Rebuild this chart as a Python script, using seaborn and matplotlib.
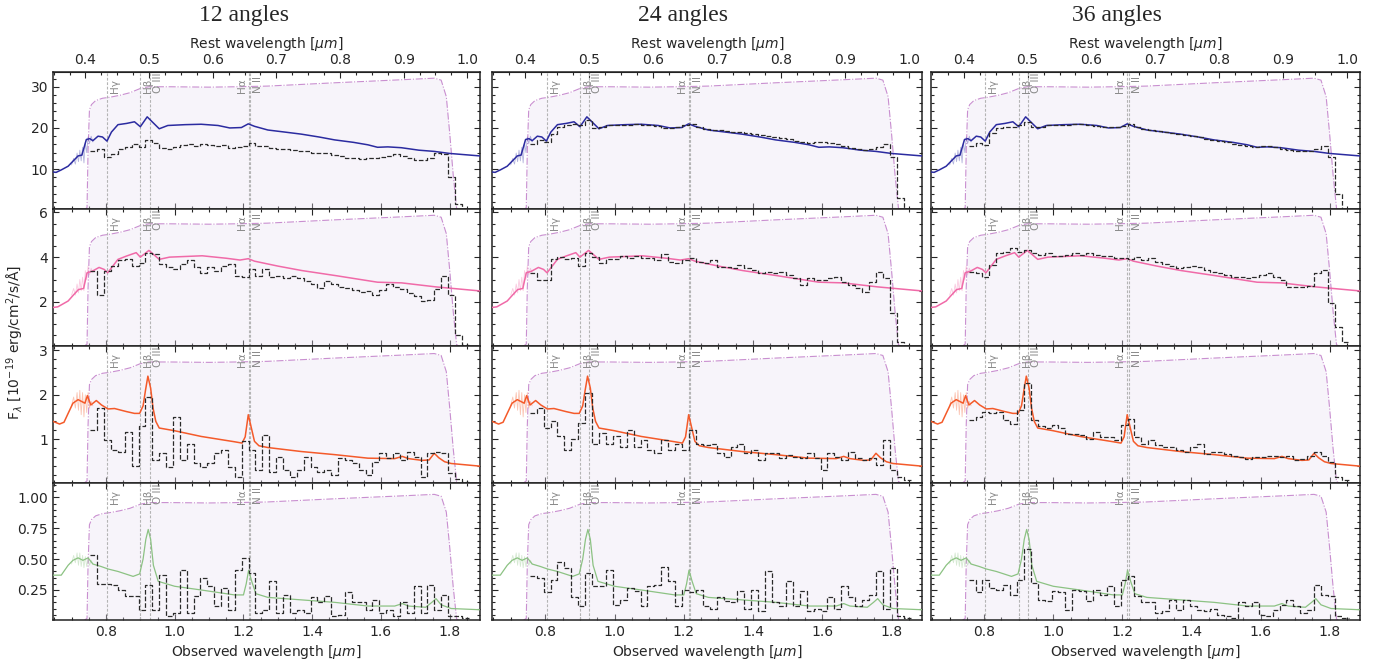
import numpy as np
import matplotlib
matplotlib.use('Agg')
import matplotlib.pyplot as plt
from matplotlib.ticker import AutoMinorLocator, MultipleLocator, FixedLocator
import seaborn as sns

sns.set_style('ticks')
plt.rcParams['font.family'] = ['DejaVu Sans']
plt.rcParams['mathtext.fontset'] = 'dejavusans'

# ---------------------------------------------------------------- data
z1 = 1.851                      # 1 + z
angles = ['12 angles', '24 angles', '36 angles']

# binned observed spectrum: 0.02 um bins from 0.755 to 1.855 um
wave_edges = np.round(np.arange(0.755, 1.8551, 0.02), 3)

d12_r1 = [14.5, 15.0, 13.0, 13.6, 14.8, 15.3, 16.0, 15.4, 17.0, 16.4,
          15.2, 14.8, 15.3, 15.8, 16.2, 15.6, 16.0, 15.8, 15.5, 15.9,
          15.2, 15.3, 15.6, 16.3, 15.6, 15.5, 15.2, 15.0, 14.9, 14.7,
          14.5, 14.4, 14.0, 13.8, 13.9, 13.5, 13.2, 12.8, 12.6, 12.5,
          12.6, 12.8, 13.0, 13.3, 13.6, 13.2, 12.6, 12.3, 12.3, 12.6,
          13.8, 13.6, 8.0, 1.5, 0.3]
d24_r1 = [16.0, 17.0, 16.5, 18.5, 20.3, 20.8, 21.0, 20.8, 22.0, 20.0,
          20.3, 20.6, 20.6, 20.8, 20.8, 20.9, 20.8, 20.7, 20.4, 20.0,
          20.0, 20.2, 20.6, 21.0, 20.3, 19.8, 19.6, 19.4, 19.2, 19.0,
          18.9, 18.8, 18.6, 18.4, 18.1, 17.8, 17.5, 17.2, 16.9, 16.6,
          16.4, 16.5, 16.6, 16.3, 16.0, 15.7, 15.2, 14.8, 14.7, 15.0,
          15.4, 16.1, 13.0, 3.0, 0.3]
d36_r1 = [15.5, 16.3, 15.8, 18.8, 20.0, 20.3, 20.3, 20.8, 21.5, 20.2,
          20.3, 20.6, 20.7, 20.8, 20.8, 21.0, 20.9, 20.7, 20.5, 20.3,
          20.2, 20.3, 20.5, 20.9, 20.2, 19.8, 19.5, 19.3, 19.0, 18.7,
          18.5, 18.2, 18.0, 17.7, 17.4, 17.1, 16.8, 16.5, 16.2, 15.8,
          15.5, 15.4, 15.5, 15.5, 15.3, 15.0, 14.6, 14.4, 14.4, 14.5,
          15.0, 15.7, 13.0, 4.0, 0.4]

d12_r2 = [3.4, 2.3, 3.4, 3.6, 3.85, 3.9, 3.6, 3.75, 4.2, 4.15,
          3.7, 3.55, 3.47, 3.7, 3.85, 3.55, 3.27, 3.55, 3.4, 3.6,
          3.7, 3.17, 3.12, 3.47, 3.17, 3.47, 3.1, 3.17, 3.06, 3.17,
          3.06, 2.94, 2.79, 2.6, 2.94, 2.79, 2.67, 2.64, 2.52, 2.45,
          2.48, 2.33, 2.52, 2.79, 2.67, 2.56, 2.41, 2.26, 2.03, 2.1,
          2.56, 3.17, 2.33, 0.5, 0.06]
d24_r2 = [3.3, 3.0, 3.0, 3.9, 4.0, 3.9, 3.95, 3.6, 4.2, 4.0,
          3.75, 3.9, 3.9, 4.05, 3.95, 4.05, 3.95, 3.95, 3.88, 4.15,
          3.8, 3.72, 3.88, 3.95, 3.8, 3.75, 3.88, 3.58, 3.58, 3.5,
          3.65, 3.5, 3.43, 3.28, 3.35, 3.28, 3.35, 3.2, 3.05, 2.75,
          3.05, 3.0, 2.98, 3.05, 3.1, 2.9, 2.75, 2.6, 2.45, 2.9,
          3.35, 3.05, 1.5, 0.2, 0.02]
d36_r2 = [3.35, 3.28, 3.13, 3.65, 4.18, 4.25, 4.4, 4.25, 4.33, 4.18,
          4.1, 4.18, 4.06, 4.06, 4.1, 4.18, 4.1, 4.18, 4.1, 4.03,
          4.03, 3.95, 3.95, 3.9, 4.0, 3.88, 3.95, 3.8, 3.7, 3.6,
          3.5, 3.55, 3.6, 3.58, 3.43, 3.35, 3.28, 3.2, 3.13, 3.1,
          3.05, 3.13, 3.2, 3.3, 3.13, 2.98, 2.68, 2.65, 2.68, 2.7,
          3.28, 3.43, 1.93, 0.9, 0.2]

d12_r3 = [1.2, 1.7, 0.98, 0.75, 0.72, 1.15, 0.4, 1.3, 1.95, 0.53,
          0.68, 0.38, 1.5, 0.53, 0.9, 0.45, 0.38, 0.45, 0.68, 0.75,
          0.38, 0.15, 0.95, 0.75, 0.3, 1.1, 0.26, 0.6, 0.3, 0.15,
          0.3, 0.6, 0.38, 0.26, 0.3, 0.19, 0.57, 0.53, 0.45, 0.3,
          0.19, 0.49, 0.68, 0.57, 0.68, 0.53, 0.72, 0.6, 0.15, 0.68,
          0.72, 0.68, 0.23, 0.11, 0.03]
d24_r3 = [1.6, 1.7, 1.25, 1.4, 1.06, 0.75, 1.0, 1.36, 2.04, 0.9,
          1.13, 0.9, 1.06, 0.83, 1.2, 0.83, 0.98, 0.75, 0.68, 0.98,
          0.75, 0.9, 0.75, 1.2, 0.9, 0.87, 0.9, 0.68, 0.6, 0.83,
          0.9, 0.68, 0.75, 0.53, 0.68, 0.68, 0.57, 0.64, 0.6, 0.57,
          0.68, 0.57, 0.3, 0.68, 0.6, 0.53, 0.72, 0.57, 0.53, 0.57,
          0.42, 0.98, 0.3, 0.15, 0.08]
d36_r3 = [1.43, 1.5, 1.62, 1.58, 1.62, 1.43, 1.35, 1.65, 2.26, 1.43,
          1.29, 1.24, 1.31, 1.24, 1.12, 1.12, 1.09, 1.01, 1.16, 1.05,
          1.05, 0.97, 1.31, 1.46, 1.05, 0.9, 0.97, 0.86, 0.82, 0.82,
          0.75, 0.71, 0.82, 0.9, 0.67, 0.71, 0.71, 0.67, 0.63, 0.6,
          0.56, 0.6, 0.6, 0.63, 0.63, 0.6, 0.63, 0.52, 0.56, 0.63,
          0.71, 0.63, 0.48, 0.14, 0.07]

d12_r4 = [0.53, 0.3, 0.3, 0.29, 0.25, 0.2, 0.2, 0.09, 0.29, 0.09,
          0.37, 0.04, 0.06, 0.41, 0.06, 0.2, 0.35, 0.28, 0.12, 0.27,
          0.09, 0.41, 0.51, 0.39, 0.06, 0.09, 0.32, 0.06, 0.21, 0.06,
          0.09, 0.06, 0.19, 0.15, 0.2, 0.04, 0.05, 0.23, 0.15, 0.15,
          0.09, 0.17, 0.06, 0.09, 0.04, 0.15, 0.06, 0.28, 0.06, 0.29,
          0.09, 0.21, 0.04, 0.04, 0.02]
d24_r4 = [0.36, 0.35, 0.23, 0.33, 0.48, 0.43, 0.19, 0.12, 0.39, 0.28,
          0.28, 0.41, 0.13, 0.17, 0.27, 0.24, 0.12, 0.28, 0.29, 0.44,
          0.32, 0.12, 0.25, 0.23, 0.25, 0.12, 0.1, 0.19, 0.16, 0.15,
          0.24, 0.1, 0.25, 0.08, 0.4, 0.15, 0.12, 0.32, 0.12, 0.24,
          0.08, 0.1, 0.08, 0.19, 0.1, 0.28, 0.19, 0.12, 0.17, 0.21,
          0.4, 0.1, 0.43, 0.04, 0.02]
d36_r4 = [0.33, 0.23, 0.33, 0.27, 0.25, 0.29, 0.21, 0.33, 0.58, 0.31,
          0.17, 0.16, 0.24, 0.23, 0.09, 0.25, 0.24, 0.16, 0.25, 0.21,
          0.28, 0.12, 0.33, 0.36, 0.2, 0.15, 0.15, 0.06, 0.08, 0.17,
          0.09, 0.17, 0.12, 0.09, 0.08, 0.1, 0.05, 0.04, 0.02, 0.15,
          0.12, 0.15, 0.05, 0.04, 0.09, 0.13, 0.17, 0.12, 0.06, 0.09,
          0.29, 0.21, 0.2, 0.04, 0.02]

# model spectra (smoothed), one per row
m1_wave = [0.646, 0.655, 0.670, 0.690, 0.705, 0.719, 0.730, 0.743, 0.753, 0.762,
           0.777, 0.790, 0.803, 0.816, 0.835, 0.860, 0.883, 0.900, 0.920, 0.932,
           0.955, 0.980, 1.030, 1.077, 1.126, 1.160, 1.194, 1.214, 1.232, 1.271,
           1.320, 1.368, 1.420, 1.465, 1.520, 1.562, 1.590, 1.620, 1.659, 1.710,
           1.755, 1.800, 1.888]
m1_flux = [9.3, 9.2, 9.8, 10.7, 12.0, 13.2, 13.4, 17.2, 17.4, 16.9,
           18.0, 17.8, 16.8, 19.0, 20.8, 21.1, 21.5, 20.3, 22.7, 21.7,
           19.8, 20.6, 20.8, 20.9, 20.6, 20.0, 20.1, 21.0, 20.4, 19.5,
           19.0, 18.5, 17.8, 17.1, 16.5, 15.9, 15.3, 15.4, 15.2, 14.6,
           14.3, 13.8, 13.2]
m2_wave = [0.646, 0.660, 0.690, 0.705, 0.720, 0.735, 0.745, 0.760, 0.780, 0.795,
           0.805, 0.835, 0.860, 0.888, 0.900, 0.925, 0.940, 0.955, 0.985, 1.080,
           1.150, 1.190, 1.214, 1.232, 1.300, 1.370, 1.470, 1.565, 1.590, 1.660,
           1.760, 1.888]
m2_flux = [1.75, 1.78, 2.04, 2.3, 2.55, 2.6, 3.3, 3.37, 3.54, 3.45,
           3.3, 3.9, 4.05, 4.2, 4.0, 4.3, 4.1, 3.9, 4.0, 4.06,
           3.95, 3.87, 3.93, 3.82, 3.6, 3.4, 3.17, 2.94, 2.88, 2.85,
           2.67, 2.49]
m3_wave = [0.646, 0.665, 0.678, 0.690, 0.704, 0.719, 0.729, 0.739, 0.746, 0.756,
           0.772, 0.787, 0.806, 0.825, 0.860, 0.883, 0.898, 0.908, 0.915, 0.922,
           0.930, 0.937, 0.945, 0.955, 0.999, 1.077, 1.174, 1.196, 1.205, 1.214,
           1.223, 1.232, 1.245, 1.271, 1.368, 1.465, 1.562, 1.640, 1.662, 1.680,
           1.720, 1.740, 1.755, 1.768, 1.785, 1.804, 1.888]
m3_flux = [1.40, 1.34, 1.38, 1.58, 1.81, 1.89, 1.85, 1.81, 1.98, 1.77,
           1.87, 1.77, 1.68, 1.69, 1.62, 1.58, 1.58, 1.75, 2.1, 2.42,
           2.15, 1.7, 1.4, 1.25, 1.19, 1.06, 0.94, 0.91, 1.05, 1.55,
           1.25, 0.95, 0.85, 0.81, 0.72, 0.65, 0.57, 0.56, 0.61, 0.56,
           0.52, 0.53, 0.68, 0.58, 0.49, 0.45, 0.39]
m4_wave = [0.646, 0.670, 0.690, 0.704, 0.719, 0.733, 0.748, 0.762, 0.786, 0.806,
           0.835, 0.879, 0.898, 0.908, 0.916, 0.923, 0.930, 0.938, 0.952, 1.000,
           1.077, 1.174, 1.200, 1.208, 1.215, 1.224, 1.236, 1.271, 1.368, 1.465,
           1.562, 1.640, 1.662, 1.680, 1.730, 1.748, 1.760, 1.775, 1.804, 1.888]
m4_flux = [0.37, 0.37, 0.45, 0.49, 0.51, 0.49, 0.51, 0.46, 0.44, 0.42,
           0.40, 0.36, 0.38, 0.50, 0.66, 0.74, 0.66, 0.45, 0.32, 0.28,
           0.25, 0.21, 0.21, 0.30, 0.41, 0.32, 0.22, 0.19, 0.17, 0.15,
           0.12, 0.12, 0.14, 0.12, 0.11, 0.15, 0.18, 0.13, 0.10, 0.09]

# full-resolution model around the blue edge (faint, spiky)
hr_wave = [0.700, 0.706, 0.711, 0.716, 0.720, 0.724, 0.728, 0.732, 0.736, 0.740,
           0.744, 0.748, 0.752, 0.757, 0.762]
hr_r1 = [11.0, 12.6, 11.2, 13.9, 11.8, 14.6, 12.0, 15.3, 11.5, 16.5, 14.0, 17.8, 16.2, 18.0, 16.6]
hr_r2 = [2.3, 2.6, 2.3, 2.8, 2.4, 3.0, 2.5, 3.1, 2.5, 3.4, 3.0, 3.6, 3.2, 3.5, 3.3]
hr_r3 = [1.75, 1.95, 1.7, 2.05, 1.65, 2.1, 1.55, 2.05, 1.5, 2.0, 1.6, 2.05, 1.7, 1.85, 1.75]
hr_r4 = [0.46, 0.53, 0.47, 0.55, 0.45, 0.55, 0.44, 0.53, 0.43, 0.52, 0.44, 0.5, 0.45, 0.49, 0.46]

# filter throughput (normalised) and its scale in each row
filter_wave = [0.735, 0.745, 0.748, 0.752, 0.758, 0.770, 0.790, 0.810, 0.840, 0.870,
               0.900, 0.925, 0.985, 1.100, 1.180, 1.270, 1.465, 1.660, 1.755, 1.775,
               1.790, 1.800, 1.810, 1.820, 1.830]
filter_trans = [0.0, 0.02, 0.45, 0.76, 0.80, 0.83, 0.848, 0.855, 0.87, 0.89,
                0.922, 0.935, 0.935, 0.932, 0.935, 0.94, 0.965, 0.988, 1.0, 0.985,
                0.86, 0.58, 0.27, 0.015, 0.0]
filter_scale = [32.1, 5.87, 2.93, 1.024]

# emission lines (rest wavelength, um)
line_names = ['Hγ', 'Hβ', 'O III', 'Hα', 'N II']
line_rest = [0.43405, 0.48613, 0.50068, 0.65628, 0.65835]
rest_ticks = [0.4, 0.5, 0.6, 0.7, 0.8, 0.9, 1.0]

# ---------------------------------------------------------------- plotting
obs = [[d12_r1, d24_r1, d36_r1],
       [d12_r2, d24_r2, d36_r2],
       [d12_r3, d24_r3, d36_r3],
       [d12_r4, d24_r4, d36_r4]]
models = [(m1_wave, m1_flux), (m2_wave, m2_flux), (m3_wave, m3_flux), (m4_wave, m4_flux)]
hires = [hr_r1, hr_r2, hr_r3, hr_r4]
colors = ['#2b2ba0', '#f06aa8', '#f45a2a', '#8cc283']
model_lw = [1.1, 1.1, 1.1, 0.9]
ylims = [(0.3, 33.6), (0.03, 6.15), (0.01, 3.1), (0.007, 1.116)]
ymajor = [10, 2, 1, 0.25]

col_left = [53, 492, 931]
col_width = [427, 430, 429]
row_top = [72, 209, 346, 483]
row_h = 137
W, H = 1380, 664

fig = plt.figure(figsize=(13.8, 6.64), dpi=100)

for r in range(4):
    for c in range(3):
        ax = fig.add_axes([col_left[c] / W, 1 - (row_top[r] + row_h) / H,
                           col_width[c] / W, row_h / H])
        fw = np.array(filter_wave)
        ft = np.array(filter_trans) * filter_scale[r]
        ax.fill_between(fw, ft, color='#e9e0f2', alpha=0.35, lw=0, zorder=1)
        ax.plot(fw, ft, color='#c98fd0', lw=0.8, ls='-.', zorder=2)

        for name, lr in zip(line_names, line_rest):
            ax.axvline(lr * z1, color='#b4b4b4', lw=0.8, ls=(0, (2.5, 1.5)), zorder=2)
            if name == 'Hα':
                off, ha = -2, 'right'
            else:
                off, ha = 3, 'left'
            ax.annotate(name, xy=(lr * z1, 0.85), xycoords=('data', 'axes fraction'),
                        xytext=(off, 0), textcoords='offset pixels', rotation=90,
                        ha=ha, va='bottom', fontsize=7.5, color='#8a8a8a', zorder=3)

        sns.lineplot(x=hr_wave, y=hires[r], ax=ax, color=colors[r], lw=0.6,
                     alpha=0.35, zorder=3)
        mw, mf = models[r]
        sns.lineplot(x=mw, y=mf, ax=ax, color=colors[r], lw=model_lw[r], zorder=4)

        vals = obs[r][c]
        sns.lineplot(x=wave_edges, y=list(vals) + [vals[-1]], ax=ax,
                     drawstyle='steps-post', color='#2a2a2a', lw=0.9,
                     linestyle='--', zorder=5)

        ax.set_xlim(0.646, 1.888)
        ax.set_ylim(*ylims[r])
        ax.xaxis.set_major_locator(MultipleLocator(0.2))
        ax.xaxis.set_minor_locator(AutoMinorLocator(4))
        ax.yaxis.set_major_locator(MultipleLocator(ymajor[r]))
        ax.yaxis.set_minor_locator(AutoMinorLocator())
        ax.tick_params(which='both', direction='in', top=(r > 0), right=True,
                       labelsize=10, width=0.8)
        ax.tick_params(which='major', length=4)
        ax.tick_params(which='minor', length=2)
        if c > 0:
            ax.tick_params(labelleft=False)
        if r < 3:
            ax.tick_params(labelbottom=False)
        else:
            ax.set_xlabel(r'Observed wavelength [$\mu m$]', fontsize=10, labelpad=3)
        if r == 3:
            ax.yaxis.set_major_formatter(matplotlib.ticker.FormatStrFormatter('%.2f'))
        for sp in ax.spines.values():
            sp.set_linewidth(1.1)
            sp.set_color('#222222')

        if r == 0:
            sec = ax.secondary_xaxis('top', functions=(lambda x: x / z1, lambda x: x * z1))
            sec.xaxis.set_major_locator(FixedLocator(rest_ticks))
            sec.xaxis.set_minor_locator(FixedLocator(
                [t / 1000 for t in range(350, 1025, 25)]))
            sec.tick_params(which='both', direction='in', labelsize=10, width=0.8)
            sec.tick_params(which='major', length=4)
            sec.tick_params(which='minor', length=2)
            sec.set_xlabel(r'Rest wavelength [$\mu m$]', fontsize=10, labelpad=4)

title_x = [244, 683, 1117]
for c in range(3):
    fig.text(title_x[c] / W, 0.977, angles[c], ha='center', va='center',
             fontsize=17, family=['Liberation Serif', 'DejaVu Serif'])

fig.text(0.011, 0.485, r'F$_\lambda$ [10$^{-19}$ erg/cm$^2$/s/Å]', rotation=90,
         ha='center', va='center', fontsize=10)

fig.savefig('out.png', dpi=100)
